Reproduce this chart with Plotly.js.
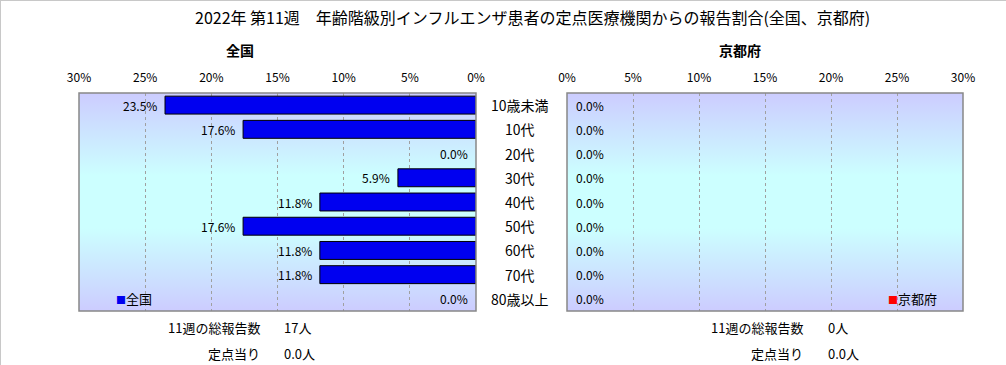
<!DOCTYPE html>
<html><head><meta charset="utf-8">
<script src="https://cdn.plot.ly/plotly-3.0.1.min.js"></script>
<style>body{margin:0;padding:0;background:#fff}#c{width:1006px;height:365px}</style>
</head><body><div id="c"></div>
<script>
const title = "2022年 第11週　年齢階級別インフルエンザ患者の定点医療機関からの報告割合(全国、京都府)";
const categories = ["10歳未満","10代","20代","30代","40代","50代","60代","70代","80歳以上"];
const nationalPct = [23.5,17.6,0.0,5.9,11.8,17.6,11.8,11.8,0.0];
const kyotoPct = [0.0,0.0,0.0,0.0,0.0,0.0,0.0,0.0,0.0];
const panelNames = ["全国","京都府"];
const totalLabel = "11週の総報告数";
const perLabel = "定点当り";
const totals = ["17人","0人"];
const perSentinel = ["0.0人","0.0人"];
const xTicks = [0,5,10,15,20,25,30];

const W=1006,H=365;
const px = x=>x/W, py = y=>(H-y)/H;
const FONT = "'Noto Sans CJK JP', 'Noto Sans', sans-serif";
const lw = arr=>arr.map(v=>v>0?1:0);

const traces = [
 {type:'bar',orientation:'h',y:categories,x:nationalPct,xaxis:'x',yaxis:'y',
  marker:{color:'#0000f0',line:{color:'#000',width:lw(nationalPct)}},width:0.74,hoverinfo:'skip',showlegend:false},
 {type:'bar',orientation:'h',y:categories,x:kyotoPct,xaxis:'x2',yaxis:'y2',
  marker:{color:'#ff0000',line:{color:'#000',width:lw(kyotoPct)}},width:0.74,hoverinfo:'skip',showlegend:false}
];

const ann = [];
nationalPct.forEach((v,i)=>ann.push({x:v,y:categories[i],xref:'x',yref:'y',text:v.toFixed(1)+'%',
  showarrow:false,xanchor:'right',xshift:-6,font:{size:12,color:'#000',family:FONT}}));
kyotoPct.forEach((v,i)=>ann.push({x:v,y:categories[i],xref:'x2',yref:'y2',text:v.toFixed(1)+'%',
  showarrow:false,xanchor:'left',xshift:7,font:{size:12,color:'#000',family:FONT}}));
categories.forEach(c=>ann.push({x:px(520),y:c,xref:'paper',yref:'y',text:c,showarrow:false,
  xanchor:'center',font:{size:14,color:'#000',family:FONT}}));
ann.push({x:px(532),y:py(17),xref:'paper',yref:'paper',text:title,showarrow:false,xanchor:'center',yanchor:'middle',font:{size:16,color:'#000',family:FONT}});
ann.push({x:px(240),y:py(50),xref:'paper',yref:'paper',text:'<b>'+panelNames[0]+'</b>',showarrow:false,xanchor:'center',yanchor:'middle',font:{size:14,color:'#000',family:FONT}});
ann.push({x:px(740),y:py(50),xref:'paper',yref:'paper',text:'<b>'+panelNames[1]+'</b>',showarrow:false,xanchor:'center',yanchor:'middle',font:{size:14,color:'#000',family:FONT}});
ann.push({x:px(114),y:py(298),xref:'paper',yref:'paper',text:'<span style="color:#0000f0;font-size:10px">■</span>'+panelNames[0],showarrow:false,xanchor:'left',yanchor:'middle',font:{size:13,color:'#000',family:FONT}});
ann.push({x:px(886),y:py(298),xref:'paper',yref:'paper',text:'<span style="color:#ff0000;font-size:10px">■</span>'+panelNames[1],showarrow:false,xanchor:'left',yanchor:'middle',font:{size:13,color:'#000',family:FONT}});
const rightEdges=[262,805], leftStarts=[282,826];
[0,1].forEach(k=>{
  ann.push({x:px(rightEdges[k]),y:py(327),xref:'paper',yref:'paper',text:totalLabel,showarrow:false,xanchor:'right',yanchor:'middle',font:{size:13,color:'#000',family:FONT}});
  ann.push({x:px(leftStarts[k]),y:py(327),xref:'paper',yref:'paper',text:totals[k],showarrow:false,xanchor:'left',yanchor:'middle',font:{size:13,color:'#000',family:FONT}});
  ann.push({x:px(rightEdges[k]),y:py(353),xref:'paper',yref:'paper',text:perLabel,showarrow:false,xanchor:'right',yanchor:'middle',font:{size:13,color:'#000',family:FONT}});
  ann.push({x:px(leftStarts[k]),y:py(353),xref:'paper',yref:'paper',text:perSentinel[k],showarrow:false,xanchor:'left',yanchor:'middle',font:{size:13,color:'#000',family:FONT}});
});

const grad = 'data:image/svg+xml;charset=utf-8,'+encodeURIComponent(
 '<svg xmlns="http://www.w3.org/2000/svg" width="100" height="100" preserveAspectRatio="none"><defs><linearGradient id="g" x1="0" y1="0" x2="0" y2="1">'+
 '<stop offset="0" stop-color="#ccccff"/><stop offset="0.38" stop-color="#ccffff"/><stop offset="0.62" stop-color="#ccffff"/><stop offset="1" stop-color="#ccccff"/>'+
 '</linearGradient></defs><rect width="100" height="100" fill="url(#g)"/></svg>');

const dom = {x1:[px(79),px(476)], x2:[px(567),px(963)], y:[py(311),py(93)]};
const xaxisBase = {range:[0,30],tickvals:xTicks,ticktext:xTicks.map(t=>t+'%'),side:'top',
  showgrid:true,gridcolor:'#a0a0a0',griddash:'dot',gridwidth:1,zeroline:false,
  showline:false,ticks:'',ticklabelstandoff:8,
  tickfont:{size:12,color:'#000',family:FONT},fixedrange:true};
const yaxisBase = {range:[8.5,-0.5],showticklabels:false,showgrid:false,zeroline:false,ticks:'',fixedrange:true,showline:false};
const layout = {
  width:W,height:H,margin:{l:0,r:0,t:0,b:0},paper_bgcolor:'#fff',plot_bgcolor:'rgba(0,0,0,0)',
  showlegend:false,
  xaxis:Object.assign({},xaxisBase,{domain:dom.x1,range:[30,0],anchor:'y'}),
  xaxis2:Object.assign({},xaxisBase,{domain:dom.x2,range:[0,30],anchor:'y2'}),
  yaxis:Object.assign({},yaxisBase,{domain:dom.y,anchor:'x'}),
  yaxis2:Object.assign({},yaxisBase,{domain:dom.y,anchor:'x2'}),
  images:[
    {source:grad,xref:'paper',yref:'paper',x:dom.x1[0],y:dom.y[1],sizex:dom.x1[1]-dom.x1[0],sizey:dom.y[1]-dom.y[0],sizing:'stretch',layer:'below',xanchor:'left',yanchor:'top'},
    {source:grad,xref:'paper',yref:'paper',x:dom.x2[0],y:dom.y[1],sizex:dom.x2[1]-dom.x2[0],sizey:dom.y[1]-dom.y[0],sizing:'stretch',layer:'below',xanchor:'left',yanchor:'top'}
  ],
  shapes:[
    {type:'line',xref:'paper',yref:'paper',x0:0,x1:1,y0:1,y1:1,line:{color:'#c8c8c8',width:2}},
    {type:'line',xref:'paper',yref:'paper',x0:0,x1:0,y0:0,y1:1,line:{color:'#c8c8c8',width:2}},
    {type:'rect',xref:'x domain',yref:'y domain',x0:0,x1:1,y0:0,y1:1,layer:'above',fillcolor:'rgba(0,0,0,0)',line:{color:'#888',width:1.5}},
    {type:'rect',xref:'x2 domain',yref:'y2 domain',x0:0,x1:1,y0:0,y1:1,layer:'above',fillcolor:'rgba(0,0,0,0)',line:{color:'#888',width:1.5}}
  ],
  annotations:ann
};
Plotly.newPlot('c',traces,layout,{staticPlot:true,displayModeBar:false});
</script></body></html>
